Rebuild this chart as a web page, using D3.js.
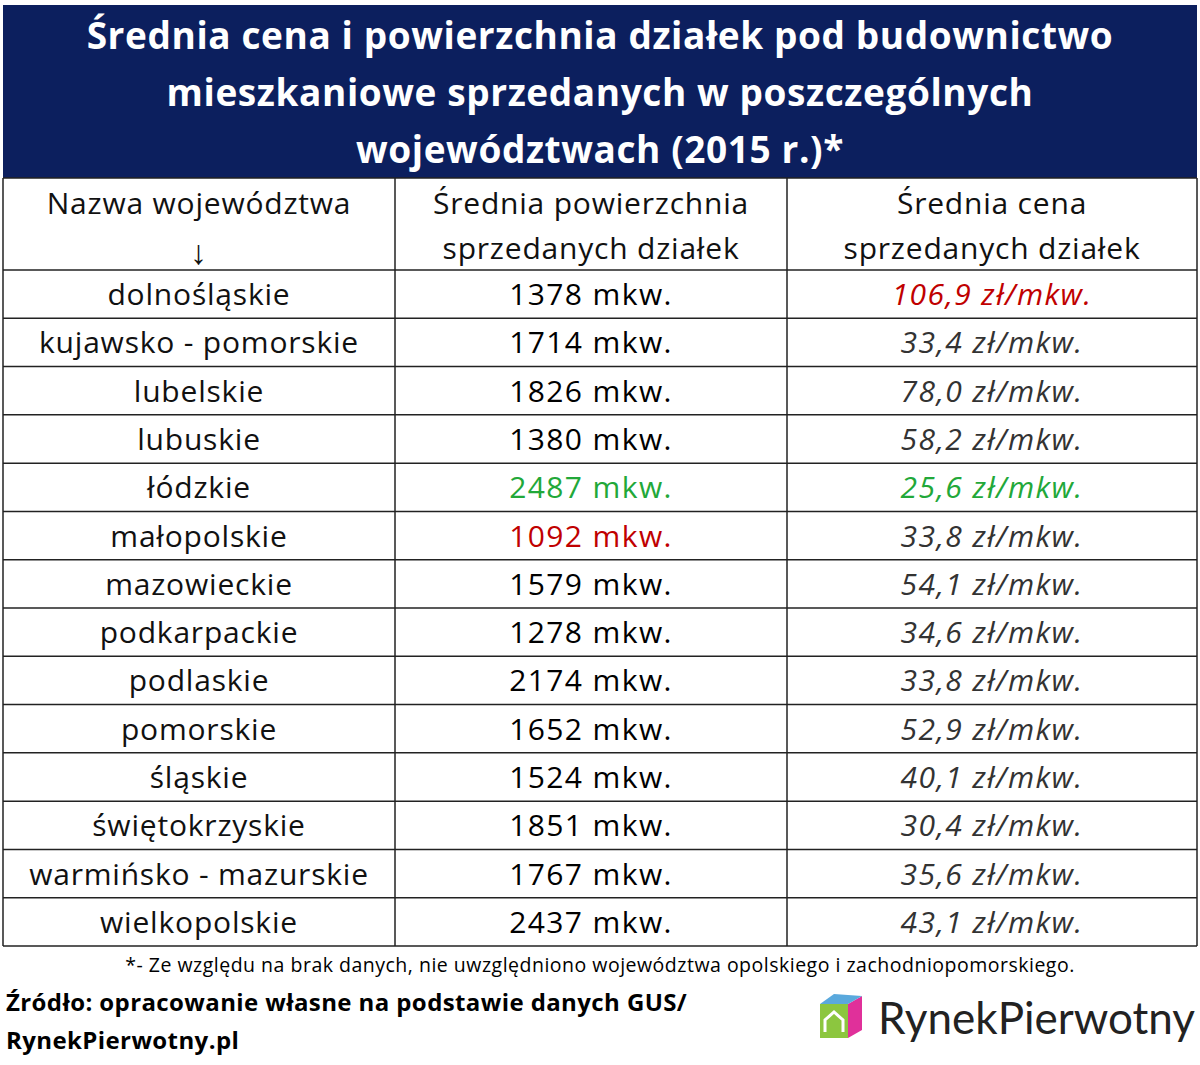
<!DOCTYPE html><html><head><meta charset="utf-8"><script src="https://cdn.jsdelivr.net/npm/d3@7"></script>
<style>body{margin:0;background:#fff}</style></head><body><svg id="c" width="1200" height="1065"></svg>
<script>
const regions=["dolnośląskie","kujawsko - pomorskie","lubelskie","lubuskie","łódzkie","małopolskie","mazowieckie","podkarpackie","podlaskie","pomorskie","śląskie","świętokrzyskie","warmińsko - mazurskie","wielkopolskie"];
const areas=[1378,1714,1826,1380,2487,1092,1579,1278,2174,1652,1524,1851,1767,2437];
const prices=[106.9,33.4,78.0,58.2,25.6,33.8,54.1,34.6,33.8,52.9,40.1,30.4,35.6,43.1];
const areaColor=["#000","#000","#000","#000","#22a839","#c00000","#000","#000","#000","#000","#000","#000","#000","#000"];
const priceColor=["#c00000","#333","#333","#333","#22a839","#333","#333","#333","#333","#333","#333","#333","#333","#333"];
const titleLines=["Średnia cena i powierzchnia działek pod budownictwo","mieszkaniowe sprzedanych w poszczególnych","województwach (2015 r.)*"];
const svg=d3.select("#c");const F="'Open Sans','Noto Sans',sans-serif";
const L=3,R=1197,T=5;
svg.append("rect").attr("x",L).attr("y",T).attr("width",R-L).attr("height",173).attr("fill","#0c1f5e");
titleLines.forEach((t,i)=>svg.append("text").attr("x",600).attr("y",49+i*57).attr("text-anchor","middle").attr("fill","#fff").attr("font-family",F).attr("font-weight","bold").attr("font-size",37).attr("letter-spacing",0.6).text(t));
const cols=[L,395,787,R];
const cx=i=>(cols[i]+cols[i+1])/2;
const y=d3.scaleBand().domain(d3.range(regions.length)).range([270,946]);
const g=svg.append("g");
const FS=30, LS=0.8;
const hdr=[["Nazwa województwa","↓"],["Średnia powierzchnia","sprzedanych działek"],["Średnia cena","sprzedanych działek"]];
hdr.forEach((h,i)=>h.forEach((t,j)=>g.append("text").attr("x",cx(i)).attr("y",214+j*45+(t==="↓"?5:0)).attr("text-anchor","middle").attr("font-family",F).attr("font-size",t==="↓"?34:FS).attr("letter-spacing",LS).attr("fill","#111").text(t)));
const fmt=v=>v.toFixed(1).replace(".",",")+" zł/mkw.";
regions.forEach((r,i)=>{const yy=y(i)+y.bandwidth()/2+11;
 g.append("text").attr("x",cx(0)).attr("y",yy).attr("text-anchor","middle").attr("font-family",F).attr("font-size",FS).attr("letter-spacing",LS).attr("fill","#111").text(r);
 g.append("text").attr("x",cx(1)).attr("y",yy).attr("text-anchor","middle").attr("font-family",F).attr("font-size",FS).attr("letter-spacing",LS+0.6).attr("fill",areaColor[i]).text(areas[i]+" mkw.");
 g.append("text").attr("x",cx(2)).attr("y",yy).attr("text-anchor","middle").attr("font-family",F).attr("font-size",FS).attr("letter-spacing",LS+0.6).attr("font-style","italic").attr("fill",priceColor[i]).text(fmt(prices[i]));
});
const ys=[178,270].concat(regions.map((_,i)=>y(i)+y.bandwidth()));
ys.forEach(v=>g.append("line").attr("x1",L).attr("x2",R).attr("y1",v).attr("y2",v).attr("stroke","#222").attr("stroke-width",1.5));
cols.forEach(v=>g.append("line").attr("x1",v).attr("x2",v).attr("y1",178).attr("y2",946).attr("stroke","#222").attr("stroke-width",1.5));
svg.append("text").attr("x",600).attr("y",972).attr("text-anchor","middle").attr("font-family",F).attr("font-size",19.5).attr("letter-spacing",0.5).text("*- Ze względu na brak danych, nie uwzględniono województwa opolskiego i zachodniopomorskiego.");
["Źródło: opracowanie własne na podstawie danych GUS/","RynekPierwotny.pl"].forEach((t,i)=>svg.append("text").attr("x",6).attr("y",1011+i*38).attr("font-family",F).attr("font-weight","bold").attr("font-size",24).attr("letter-spacing",0.4).text(t));
const lg=svg.append("g").attr("transform","translate(820,992)");
lg.append("polygon").attr("points","0,12 28,12 28,46 0,46").attr("fill","#8cc63f");
lg.append("polygon").attr("points","28,12 42,4 42,38 28,46").attr("fill","#e0309a");
lg.append("polygon").attr("points","0,12 14,2 42,4 28,12").attr("fill","#5aa9dd");
lg.append("path").attr("d","M5,40 L5,28 L14,20 L23,28 L23,40").attr("fill","none").attr("stroke","#fff").attr("stroke-width",3);
lg.append("text").attr("x",58).attr("y",42).attr("font-family","Lato,'Open Sans',sans-serif").attr("font-size",44).attr("fill","#222").text("RynekPierwotny");
</script></body></html>
